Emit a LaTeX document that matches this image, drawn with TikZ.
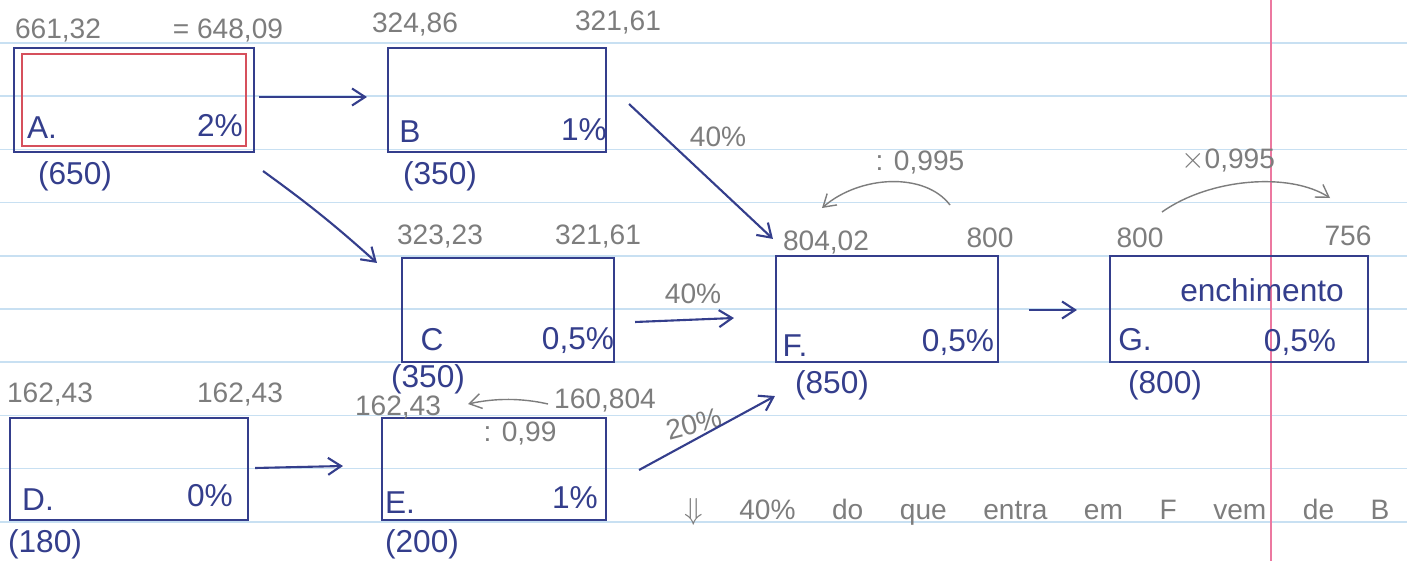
\documentclass[tikz,border=0pt]{standalone}
\usepackage{fontspec}
\setmainfont{Liberation Sans}
\usetikzlibrary{arrows.meta, positioning, calc, backgrounds}
\definecolor{cPen}{RGB}{52,62,140}
\definecolor{cPencil}{RGB}{125,125,125}
\definecolor{cRedPen}{RGB}{214,80,92}
\definecolor{cRule}{RGB}{200,224,242}
\definecolor{cMargin}{RGB}{236,120,160}
\tikzset{
	flowbox/.style    ={rectangle, draw=cPen, line width=1.2pt, minimum height=2.08cm, inner sep=0pt},
	tag/.style        ={text=cPen, font=\fontsize{18}{22}\selectfont},
	amount/.style     ={text=cPen, font=\fontsize{18}{22}\selectfont},
	pencil/.style     ={text=cPencil, font=\fontsize{16}{19}\selectfont},
	penarrow/.style   ={draw=cPen, line width=1.2pt, -{Straight Barb[length=2.6mm, width=3.4mm]}},
	pencilarrow/.style={draw=cPencil, line width=0.8pt, -{Straight Barb[length=2.4mm, width=3mm]}},
}
\begin{document}
\begin{tikzpicture}[x=0.02cm, y=-0.02cm]
	\useasboundingbox (0,0) rectangle (1407,561);
	% notebook paper
	\fill[white] (0,0) rectangle (1407,561);
	\foreach \i in {0,...,9} {
		\draw[cRule, line width=1pt] (0,{43+53.2*\i}) -- (1407,{43+53.2*\i});
	}
	\draw[cMargin, line width=1.2pt] (1271,0) -- (1271,561);
	% stages
	\node[flowbox, minimum width=4.80cm] (A) at (134,100) {};
	\node[draw=cRedPen, line width=0.9pt, minimum width=4.48cm, minimum height=1.84cm] (Ain) at (A.center) {};
	\node[flowbox, minimum width=4.36cm] (B) at (497,100) {};
	\node[flowbox, minimum width=4.24cm] (C) at (508,310) {};
	\node[flowbox, minimum width=4.76cm, minimum height=2.04cm] (D) at (129,469) {};
	\node[flowbox, minimum width=4.48cm, minimum height=2.04cm] (E) at (494,469) {};
	\node[flowbox, minimum width=4.44cm, minimum height=2.12cm] (F) at (887,309) {};
	\node[flowbox, minimum width=5.16cm, minimum height=2.12cm] (G) at (1239,309) {};
	% letters and losses
	\node[tag] (Atag) at (42,128) {A.};
	\node[tag] (Aloss) at (220,126) {2\%};
	\node[tag] (Btag) at (410,132) {B};
	\node[tag] (Bloss) at (584,130) {1\%};
	\node[tag] (Ctag) at (432,340) {C};
	\node[tag] (Closs) at (578,340) {0,5\%};
	\node[tag] (Dtag) at (38,500) {D.};
	\node[tag] (Dloss) at (210,496) {0\%};
	\node[tag] (Etag) at (400,503) {E.};
	\node[tag] (Eloss) at (575,498) {1\%};
	\node[tag] (Ftag) at (795,346) {F.};
	\node[tag] (Floss) at (958,342) {0,5\%};
	\node[tag] (Gtag) at (1135,340) {G.};
	\node[tag] (Gloss) at (1300,342) {0,5\%};
	\node[tag] (Gnote) at (1262,290) {enchimento};
	% capacities
	\node[amount] (Acap) at (75,176) {(650)};
	\node[amount] (Bcap) at (440,176) {(350)};
	\node[amount] (Ccap) at (428,379) {(350)};
	\node[amount] (Dcap) at (45,544) {(180)};
	\node[amount] (Ecap) at (422,544) {(200)};
	\node[amount] (Fcap) at (832,385) {(850)};
	\node[amount] (Gcap) at (1165,385) {(800)};
	% pencil values
	\node[pencil] at (58,30) {661,32};
	\node[pencil] at (228,30) {= 648,09};
	\node[pencil] at (415,24) {324,86};
	\node[pencil] at (618,22) {321,61};
	\node[pencil] at (440,236) {323,23};
	\node[pencil] at (598,236) {321,61};
	\node[pencil] at (826,242) {804,02};
	\node[pencil] at (990,238) {800};
	\node[pencil] at (1140,238) {800};
	\node[pencil] at (1348,236) {756};
	\node[pencil] at (50,394) {162,43};
	\node[pencil] at (240,394) {162,43};
	\node[pencil] at (398,407) {162,43};
	\node[pencil] at (605,400) {160,804};
	\node[pencil] at (520,433) {: 0,99};
	\node[pencil] at (920,162) {: 0,995};
	\node[pencil] at (1228,160) {$\times$0,995};
	\node[pencil] at (718,137) {40\%};
	\node[pencil] at (693,294) {40\%};
	\node[pencil, rotate=15] at (694,424) {20\%};
	\node[pencil, anchor=west] at (678,512) {\spaceskip=1.3em $\Downarrow$ 40\% do que entra em F vem de B};
	% flows
	\draw[penarrow] ($(A.east)+(4,-3)$) -- ($(B.west)+(-20,-3)$);
	\draw[penarrow] ($(A.south east)+(8,18)$) to[bend left=3] ($(C.north west)+(-24,6)$);
	\draw[penarrow] ($(B.east)+(22,4)$) -- ($(F.north west)+(-2,-16)$);
	\draw[penarrow] ($(C.east)+(20,12)$) -- ($(F.west)+(-41,9)$);
	\draw[penarrow] ($(D.east)+(6,-1)$) -- ($(E.west)+(-38,-3)$);
	\draw[penarrow] ($(E.east)+(32,1)$) -- ($(F.south west)+(0,33)$);
	\draw[penarrow] ($(F.east)+(30,1)$) -- ($(G.west)+(-32,1)$);
	% pencil back-calculation arcs
	\coordinate (fr) at (950,205);
	\coordinate (fl) at (822,208);
	\coordinate (gl) at (1162,212);
	\coordinate (gr) at (1330,198);
	\coordinate (er) at (548,404);
	\coordinate (el) at (468,404);
	\draw[pencilarrow] (fr) .. controls (925,172) and (860,175) .. (fl);
	\draw[pencilarrow] (gl) .. controls (1210,178) and (1290,172) .. (gr);
	\draw[pencilarrow] (er) .. controls (522,398) and (495,398) .. (el);
\end{tikzpicture}
\end{document}
